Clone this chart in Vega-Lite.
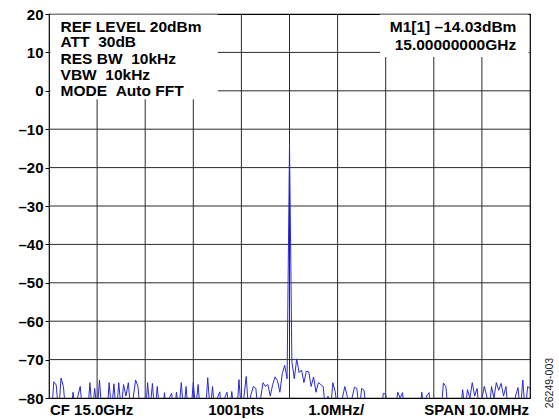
{
  "$schema": "https://vega.github.io/schema/vega-lite/v6.json",
  "width": 481,
  "height": 384,
  "autosize": {"type": "none"},
  "padding": {"left": 49, "top": 14, "right": 29, "bottom": 21},
  "background": "white",
  "config": {
    "view": {"stroke": "#000", "strokeWidth": 1.2},
    "font": "Liberation Sans"
  },
  "datasets": {
    "vgrid": [{"v": -4}, {"v": -3}, {"v": -2}, {"v": -1}, {"v": 0}, {"v": 1}, {"v": 2}, {"v": 3}, {"v": 4}],
    "hgrid": [{"v": -70}, {"v": -60}, {"v": -50}, {"v": -40}, {"v": -30}, {"v": -20}, {"v": -10}, {"v": 0}, {"v": 10}],
    "trace": [
      {"f": -5.00, "p": -83.5}, {"f": -4.95, "p": -84.5}, {"f": -4.90, "p": -75.8}, {"f": -4.85, "p": -76.6}, {"f": -4.80, "p": -84},
      {"f": -4.75, "p": -74.8}, {"f": -4.70, "p": -77}, {"f": -4.65, "p": -84.5}, {"f": -4.60, "p": -80}, {"f": -4.55, "p": -85},
      {"f": -4.50, "p": -78.5}, {"f": -4.45, "p": -84}, {"f": -4.40, "p": -79.5}, {"f": -4.35, "p": -77}, {"f": -4.30, "p": -84.5},
      {"f": -4.25, "p": -80}, {"f": -4.20, "p": -85}, {"f": -4.15, "p": -76}, {"f": -4.10, "p": -84}, {"f": -4.05, "p": -77.5},
      {"f": -4.00, "p": -83.5}, {"f": -3.95, "p": -75.3}, {"f": -3.90, "p": -84.5}, {"f": -3.85, "p": -80}, {"f": -3.80, "p": -85},
      {"f": -3.75, "p": -76}, {"f": -3.70, "p": -83.5}, {"f": -3.65, "p": -76.3}, {"f": -3.60, "p": -84.5}, {"f": -3.55, "p": -76},
      {"f": -3.50, "p": -83}, {"f": -3.45, "p": -76.5}, {"f": -3.40, "p": -79.5}, {"f": -3.35, "p": -76}, {"f": -3.30, "p": -84},
      {"f": -3.25, "p": -80}, {"f": -3.20, "p": -75.3}, {"f": -3.15, "p": -77}, {"f": -3.10, "p": -84.5}, {"f": -3.05, "p": -83.5},
      {"f": -3.00, "p": -85}, {"f": -2.95, "p": -76}, {"f": -2.90, "p": -83}, {"f": -2.85, "p": -76.2}, {"f": -2.80, "p": -84.5},
      {"f": -2.75, "p": -77}, {"f": -2.70, "p": -83.5}, {"f": -2.65, "p": -85}, {"f": -2.60, "p": -78.6}, {"f": -2.55, "p": -84},
      {"f": -2.50, "p": -80}, {"f": -2.45, "p": -78.8}, {"f": -2.40, "p": -84.5}, {"f": -2.35, "p": -78.5}, {"f": -2.30, "p": -83.5},
      {"f": -2.25, "p": -76}, {"f": -2.20, "p": -84}, {"f": -2.15, "p": -77}, {"f": -2.10, "p": -85}, {"f": -2.05, "p": -83.5},
      {"f": -2.00, "p": -76}, {"f": -1.95, "p": -83}, {"f": -1.90, "p": -76.5}, {"f": -1.85, "p": -84.5}, {"f": -1.80, "p": -80},
      {"f": -1.75, "p": -85}, {"f": -1.70, "p": -74.7}, {"f": -1.65, "p": -83.5}, {"f": -1.60, "p": -77}, {"f": -1.55, "p": -84.5},
      {"f": -1.50, "p": -80}, {"f": -1.45, "p": -78.4}, {"f": -1.40, "p": -84.5}, {"f": -1.35, "p": -80}, {"f": -1.30, "p": -78.5},
      {"f": -1.25, "p": -84}, {"f": -1.20, "p": -78.3}, {"f": -1.15, "p": -83.5}, {"f": -1.10, "p": -85}, {"f": -1.05, "p": -75.2},
      {"f": -1.00, "p": -84}, {"f": -0.95, "p": -80}, {"f": -0.90, "p": -74.4}, {"f": -0.85, "p": -83.5}, {"f": -0.80, "p": -79},
      {"f": -0.75, "p": -77}, {"f": -0.70, "p": -77.5}, {"f": -0.65, "p": -84}, {"f": -0.60, "p": -80}, {"f": -0.55, "p": -76},
      {"f": -0.50, "p": -77}, {"f": -0.45, "p": -76.5}, {"f": -0.40, "p": -79.5}, {"f": -0.35, "p": -76.5}, {"f": -0.30, "p": -74.5},
      {"f": -0.25, "p": -75.5}, {"f": -0.20, "p": -78.5}, {"f": -0.15, "p": -73.6}, {"f": -0.10, "p": -71.5}, {"f": -0.05, "p": -75},
      {"f": 0.00, "p": -14.03},
      {"f": 0.05, "p": -70.6}, {"f": 0.10, "p": -75}, {"f": 0.15, "p": -69.8}, {"f": 0.20, "p": -73.4}, {"f": 0.25, "p": -72.7},
      {"f": 0.30, "p": -76}, {"f": 0.35, "p": -73}, {"f": 0.40, "p": -73.2}, {"f": 0.45, "p": -77}, {"f": 0.50, "p": -74.5},
      {"f": 0.55, "p": -78.5}, {"f": 0.60, "p": -76}, {"f": 0.65, "p": -76.5}, {"f": 0.70, "p": -77}, {"f": 0.75, "p": -83.5},
      {"f": 0.80, "p": -79.5}, {"f": 0.85, "p": -84}, {"f": 0.90, "p": -76}, {"f": 0.95, "p": -78.3}, {"f": 1.00, "p": -83.5},
      {"f": 1.05, "p": -85}, {"f": 1.10, "p": -80}, {"f": 1.15, "p": -77}, {"f": 1.20, "p": -79.5}, {"f": 1.25, "p": -84},
      {"f": 1.30, "p": -80}, {"f": 1.35, "p": -77.2}, {"f": 1.40, "p": -77.5}, {"f": 1.45, "p": -83.5}, {"f": 1.50, "p": -77.5},
      {"f": 1.55, "p": -78}, {"f": 1.60, "p": -84}, {"f": 1.65, "p": -80}, {"f": 1.70, "p": -85}, {"f": 1.75, "p": -83.5},
      {"f": 1.80, "p": -84.5}, {"f": 1.85, "p": -80}, {"f": 1.90, "p": -85}, {"f": 1.95, "p": -78.8}, {"f": 2.00, "p": -79},
      {"f": 2.05, "p": -84}, {"f": 2.10, "p": -80}, {"f": 2.15, "p": -85}, {"f": 2.20, "p": -83.5}, {"f": 2.25, "p": -78.5},
      {"f": 2.30, "p": -80}, {"f": 2.35, "p": -78.6}, {"f": 2.40, "p": -84.5}, {"f": 2.45, "p": -83.5}, {"f": 2.50, "p": -85},
      {"f": 2.55, "p": -84}, {"f": 2.60, "p": -80.3}, {"f": 2.65, "p": -85}, {"f": 2.70, "p": -84}, {"f": 2.75, "p": -78.5},
      {"f": 2.80, "p": -83.5}, {"f": 2.85, "p": -79.5}, {"f": 2.90, "p": -78.6}, {"f": 2.95, "p": -84.5}, {"f": 3.00, "p": -83.5},
      {"f": 3.05, "p": -85}, {"f": 3.10, "p": -80}, {"f": 3.15, "p": -84}, {"f": 3.20, "p": -76.1}, {"f": 3.25, "p": -77},
      {"f": 3.30, "p": -83.5}, {"f": 3.35, "p": -85}, {"f": 3.40, "p": -80}, {"f": 3.45, "p": -84.5}, {"f": 3.50, "p": -80},
      {"f": 3.55, "p": -84}, {"f": 3.60, "p": -77.8}, {"f": 3.65, "p": -83.5}, {"f": 3.70, "p": -77.8}, {"f": 3.75, "p": -80},
      {"f": 3.80, "p": -76}, {"f": 3.85, "p": -79.5}, {"f": 3.90, "p": -77.5}, {"f": 3.95, "p": -84}, {"f": 4.00, "p": -80},
      {"f": 4.05, "p": -77}, {"f": 4.10, "p": -79.5}, {"f": 4.15, "p": -83.5}, {"f": 4.20, "p": -77}, {"f": 4.25, "p": -80},
      {"f": 4.30, "p": -76}, {"f": 4.35, "p": -78}, {"f": 4.40, "p": -76.2}, {"f": 4.45, "p": -79.5}, {"f": 4.50, "p": -77},
      {"f": 4.55, "p": -84}, {"f": 4.60, "p": -80}, {"f": 4.65, "p": -85}, {"f": 4.70, "p": -79.5}, {"f": 4.75, "p": -77.3},
      {"f": 4.80, "p": -83.5}, {"f": 4.85, "p": -75.3}, {"f": 4.90, "p": -84}, {"f": 4.95, "p": -77}, {"f": 5.00, "p": -77.5}
    ],
    "boxes": [
      {"x1": -4.97, "x2": -1.49, "y1": 19.85, "y2": -2.2},
      {"x1": 1.88, "x2": 4.97, "y1": 19.85, "y2": 8.8}
    ],
    "leftText": [
      {"x": -4.76, "y": 16.7, "t": "REF LEVEL 20dBm"},
      {"x": -4.76, "y": 12.6, "t": "ATT\u00a0\u00a030dB"},
      {"x": -4.76, "y": 8.3, "t": "RES BW\u00a0\u00a010kHz"},
      {"x": -4.76, "y": 4.2, "t": "VBW\u00a0\u00a010kHz"},
      {"x": -4.76, "y": 0.0, "t": "MODE\u00a0\u00a0Auto FFT"}
    ],
    "rightText": [
      {"x": 3.4, "y": 16.6, "t": "M1[1] –14.03dBm"},
      {"x": 3.45, "y": 11.9, "t": "15.00000000GHz"}
    ],
    "bottomLeft": [{"x": -4.98, "y": -83.1, "t": "CF 15.0GHz"}],
    "bottomCenter": [
      {"x": -1.11, "y": -83.1, "t": "1001pts"},
      {"x": 0.97, "y": -83.1, "t": "1.0MHz/"}
    ],
    "bottomRight": [{"x": 4.98, "y": -83.1, "t": "SPAN 10.0MHz"}],
    "tag": [{"x": 5.42, "y": -76.1, "t": "26249-003"}]
  },
  "layer": [
    {
      "data": {"name": "vgrid"},
      "mark": {"type": "rule", "color": "#2a2a2a", "strokeWidth": 1},
      "encoding": {
        "x": {
          "field": "v", "type": "quantitative",
          "scale": {"domain": [-5, 5], "nice": false, "zero": false},
          "axis": null
        }
      }
    },
    {
      "data": {"name": "hgrid"},
      "mark": {"type": "rule", "color": "#2a2a2a", "strokeWidth": 1},
      "encoding": {
        "y": {
          "field": "v", "type": "quantitative",
          "scale": {"domain": [-80, 20], "nice": false, "zero": false},
          "axis": {
            "values": [-80, -70, -60, -50, -40, -30, -20, -10, 0, 10, 20],
            "tickCount": 30,
            "grid": false, "domain": false, "ticks": true, "tickSize": 4, "tickColor": "#000",
            "labelOverlap": false,
            "labelFont": "Liberation Sans", "labelFontSize": 15, "labelFontWeight": "bold",
            "labelColor": "#000", "labelPadding": 2,
            "labelExpr": "datum.value < 0 ? '–' + abs(datum.value) : '' + datum.value",
            "title": null
          }
        }
      }
    },
    {
      "data": {"name": "trace"},
      "mark": {"type": "line", "color": "#2a2ad6", "strokeWidth": 1, "clip": true},
      "encoding": {
        "x": {"field": "f", "type": "quantitative"},
        "y": {"field": "p", "type": "quantitative"}
      }
    },
    {
      "data": {"name": "boxes"},
      "mark": {"type": "rect", "fill": "white", "stroke": null},
      "encoding": {
        "x": {"field": "x1", "type": "quantitative"},
        "x2": {"field": "x2"},
        "y": {"field": "y1", "type": "quantitative"},
        "y2": {"field": "y2"}
      }
    },
    {
      "data": {"name": "leftText"},
      "mark": {"type": "text", "align": "left", "baseline": "middle", "font": "Liberation Sans", "fontSize": 15.5, "fontWeight": "bold", "color": "#000"},
      "encoding": {
        "x": {"field": "x", "type": "quantitative"},
        "y": {"field": "y", "type": "quantitative"},
        "text": {"field": "t"}
      }
    },
    {
      "data": {"name": "rightText"},
      "mark": {"type": "text", "align": "center", "baseline": "middle", "font": "Liberation Sans", "fontSize": 15.5, "fontWeight": "bold", "color": "#000"},
      "encoding": {
        "x": {"field": "x", "type": "quantitative"},
        "y": {"field": "y", "type": "quantitative"},
        "text": {"field": "t"}
      }
    },
    {
      "data": {"name": "bottomLeft"},
      "mark": {"type": "text", "align": "left", "baseline": "middle", "font": "Liberation Sans", "fontSize": 15, "fontWeight": "bold", "color": "#000", "clip": false},
      "encoding": {
        "x": {"field": "x", "type": "quantitative"},
        "y": {"field": "y", "type": "quantitative"},
        "text": {"field": "t"}
      }
    },
    {
      "data": {"name": "bottomCenter"},
      "mark": {"type": "text", "align": "center", "baseline": "middle", "font": "Liberation Sans", "fontSize": 15, "fontWeight": "bold", "color": "#000", "clip": false},
      "encoding": {
        "x": {"field": "x", "type": "quantitative"},
        "y": {"field": "y", "type": "quantitative"},
        "text": {"field": "t"}
      }
    },
    {
      "data": {"name": "bottomRight"},
      "mark": {"type": "text", "align": "right", "baseline": "middle", "font": "Liberation Sans", "fontSize": 15, "fontWeight": "bold", "color": "#000", "clip": false},
      "encoding": {
        "x": {"field": "x", "type": "quantitative"},
        "y": {"field": "y", "type": "quantitative"},
        "text": {"field": "t"}
      }
    },
    {
      "data": {"name": "tag"},
      "mark": {"type": "text", "angle": 270, "align": "center", "baseline": "middle", "font": "Liberation Sans", "fontSize": 10.5, "color": "#222", "clip": false},
      "encoding": {
        "x": {"field": "x", "type": "quantitative"},
        "y": {"field": "y", "type": "quantitative"},
        "text": {"field": "t"}
      }
    }
  ]
}
